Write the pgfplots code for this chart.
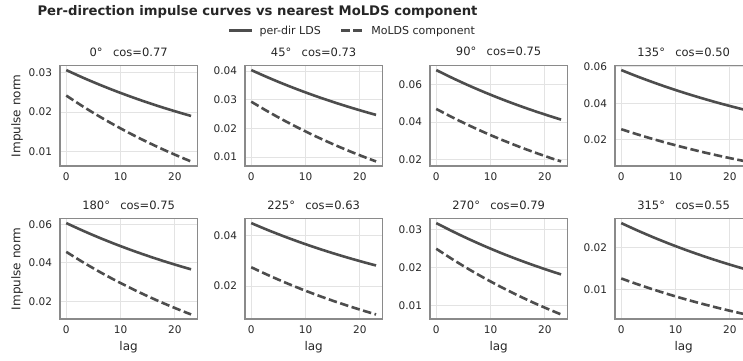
\documentclass[border=0pt]{standalone}
\usepackage{fontspec}
\setmainfont{DejaVu Sans}
\usepackage{pgfplots}
\pgfplotsset{compat=1.18}
\definecolor{linec}{HTML}{4D4D4D}
\definecolor{framec}{HTML}{8A8A8A}
\definecolor{gridc}{HTML}{E3E3E3}
\definecolor{textc}{HTML}{262626}

\pgfplotsset{
  panel/.style={
    scale only axis, width=137.3pt, height=100.5pt, anchor=south west,
    enlargelimits=0.05,
    xtick={0,10,20},
    grid=major, major grid style={gridc, line width=0.8pt},
    axis line style={framec, line width=1.2pt},
    major tick length=0pt,
    tick label style={font=\fontsize{10.5}{12}\selectfont, text=textc},
    yticklabel style={xshift=-4.5pt, /pgf/number format/.cd, fixed, fixed zerofill, precision=2},
    xticklabel style={yshift=-3.5pt},
    scaled y ticks=false,
    /pgf/number format/assume math mode=true,
    title style={at={(axis description cs:0.5,1)}, anchor=base, yshift=3.5pt, font=\fontsize{11.5}{14}\selectfont, text=textc},
    xlabel style={at={(axis description cs:0.5,-0.279)}, anchor=center, font=\fontsize{12}{14}\selectfont, text=textc},
    ylabel style={at={(axis description cs:-0.313,0.5)}, anchor=center, rotate=0, font=\fontsize{12}{14}\selectfont, text=textc},
  },
  solidc/.style={linec, line width=2.6pt, smooth},
  dashc/.style={linec, line width=2.6pt, smooth, dash pattern=on 8.5pt off 3.5pt},
}

\begin{document}
\begin{tikzpicture}
\node[anchor=west, text=textc, font=\bfseries\fontsize{13.2}{15}\selectfont] at (34pt,348pt) {Per-direction impulse curves vs nearest MoLDS component};

% 0 deg
\begin{axis}[panel, at={(60pt,194pt)}, ytick={0.01,0.02,0.03},
  title={0°\hspace{0.9em}cos=0.77}, ylabel={Impulse norm},
  legend style={at={(axis description cs:2.13,1.346)}, anchor=center, draw=none, fill=none,
    legend columns=2, font=\fontsize{11}{12}\selectfont, text=textc,
    /tikz/every even column/.append style={column sep=17pt}},
  legend image code/.code={\draw[#1] (0pt,0pt) -- (23pt,0pt);}]
\addplot[solidc] coordinates {(0,0.0307) (3,0.02881) (6,0.02705) (9,0.02540) (12,0.02386) (15,0.02241) (18,0.02106) (21,0.01980) (23,0.0190)};
\addlegendentry{\hspace{4pt}per-dir LDS}
\addplot[dashc] coordinates {(0,0.0242) (3,0.02149) (6,0.01896) (9,0.01659) (12,0.01437) (15,0.01230) (18,0.01036) (21,0.00854) (23,0.0074)};
\addlegendentry{\hspace{4pt}MoLDS component}
\end{axis}

% 45 deg
\begin{axis}[panel, at={(245pt,194pt)}, ytick={0.01,0.02,0.03,0.04},
  title={45°\hspace{0.9em}cos=0.73}]
\addplot[solidc] coordinates {(0,0.0403) (3,0.03779) (6,0.03543) (9,0.03323) (12,0.03117) (15,0.02925) (18,0.02745) (21,0.02576) (23,0.0247)};
\addplot[dashc] coordinates {(0,0.0293) (3,0.02595) (6,0.02281) (9,0.01988) (12,0.01713) (15,0.01457) (18,0.01216) (21,0.00992) (23,0.0085)};
\end{axis}

% 90 deg
\begin{axis}[panel, at={(430pt,194pt)}, ytick={0.02,0.04,0.06},
  title={90°\hspace{0.9em}cos=0.75}]
\addplot[solidc] coordinates {(0,0.0678) (3,0.06353) (6,0.05953) (9,0.05580) (12,0.05230) (15,0.04903) (18,0.04597) (21,0.04311) (23,0.0413)};
\addplot[dashc] coordinates {(0,0.0470) (3,0.04247) (6,0.03823) (9,0.03427) (12,0.03056) (15,0.02709) (18,0.02385) (21,0.02081) (23,0.0189)};
\end{axis}

% 135 deg
\begin{axis}[panel, at={(615pt,194pt)}, ytick={0.02,0.04,0.06},
  title={135°\hspace{0.9em}cos=0.50}]
\addplot[solidc] coordinates {(0,0.0582) (3,0.05465) (6,0.05134) (9,0.04823) (12,0.04533) (15,0.04262) (18,0.04007) (21,0.03770) (23,0.0362)};
\addplot[dashc] coordinates {(0,0.0257) (3,0.02285) (6,0.02018) (9,0.01768) (12,0.01535) (15,0.01316) (18,0.01112) (21,0.00921) (23,0.0080)};
\end{axis}

% 180 deg
\begin{axis}[panel, at={(60pt,41pt)}, ytick={0.02,0.04,0.06},
  title={180°\hspace{0.9em}cos=0.75}, ylabel={Impulse norm}, xlabel={lag}]
\addplot[solidc] coordinates {(0,0.0607) (3,0.05682) (6,0.05318) (9,0.04978) (12,0.04660) (15,0.04363) (18,0.04084) (21,0.03824) (23,0.0366)};
\addplot[dashc] coordinates {(0,0.0457) (3,0.04045) (6,0.03553) (9,0.03093) (12,0.02663) (15,0.02261) (18,0.01884) (21,0.01532) (23,0.0131)};
\end{axis}

% 225 deg
\begin{axis}[panel, at={(245pt,41pt)}, ytick={0.02,0.04},
  title={225°\hspace{0.9em}cos=0.63}, xlabel={lag}]
\addplot[solidc] coordinates {(0,0.0450) (3,0.04229) (6,0.03976) (9,0.03739) (12,0.03517) (15,0.03310) (18,0.03116) (21,0.02934) (23,0.0282)};
\addplot[dashc] coordinates {(0,0.0275) (3,0.02449) (6,0.02167) (9,0.01903) (12,0.01656) (15,0.01425) (18,0.01209) (21,0.01007) (23,0.0088)};
\end{axis}

% 270 deg
\begin{axis}[panel, at={(430pt,41pt)}, ytick={0.01,0.02,0.03},
  title={270°\hspace{0.9em}cos=0.79}, xlabel={lag}]
\addplot[solidc] coordinates {(0,0.0318) (3,0.02961) (6,0.02756) (9,0.02564) (12,0.02384) (15,0.02217) (18,0.02060) (21,0.01913) (23,0.0182)};
\addplot[dashc] coordinates {(0,0.0250) (3,0.02220) (6,0.01958) (9,0.01712) (12,0.01482) (15,0.01267) (18,0.01066) (21,0.00879) (23,0.0076)};
\end{axis}

% 315 deg
\begin{axis}[panel, at={(615pt,41pt)}, ytick={0.01,0.02},
  title={315°\hspace{0.9em}cos=0.55}, xlabel={lag}]
\addplot[solidc] coordinates {(0,0.0260) (3,0.02420) (6,0.02251) (9,0.02093) (12,0.01945) (15,0.01807) (18,0.01677) (21,0.01556) (23,0.0148)};
\addplot[dashc] coordinates {(0,0.0126) (3,0.01120) (6,0.00989) (9,0.00866) (12,0.00751) (15,0.00644) (18,0.00543) (21,0.00449) (23,0.0039)};
\end{axis}

\pgfresetboundingbox
\useasboundingbox (0pt,0pt) rectangle (743pt,360pt);
\end{tikzpicture}
\end{document}
